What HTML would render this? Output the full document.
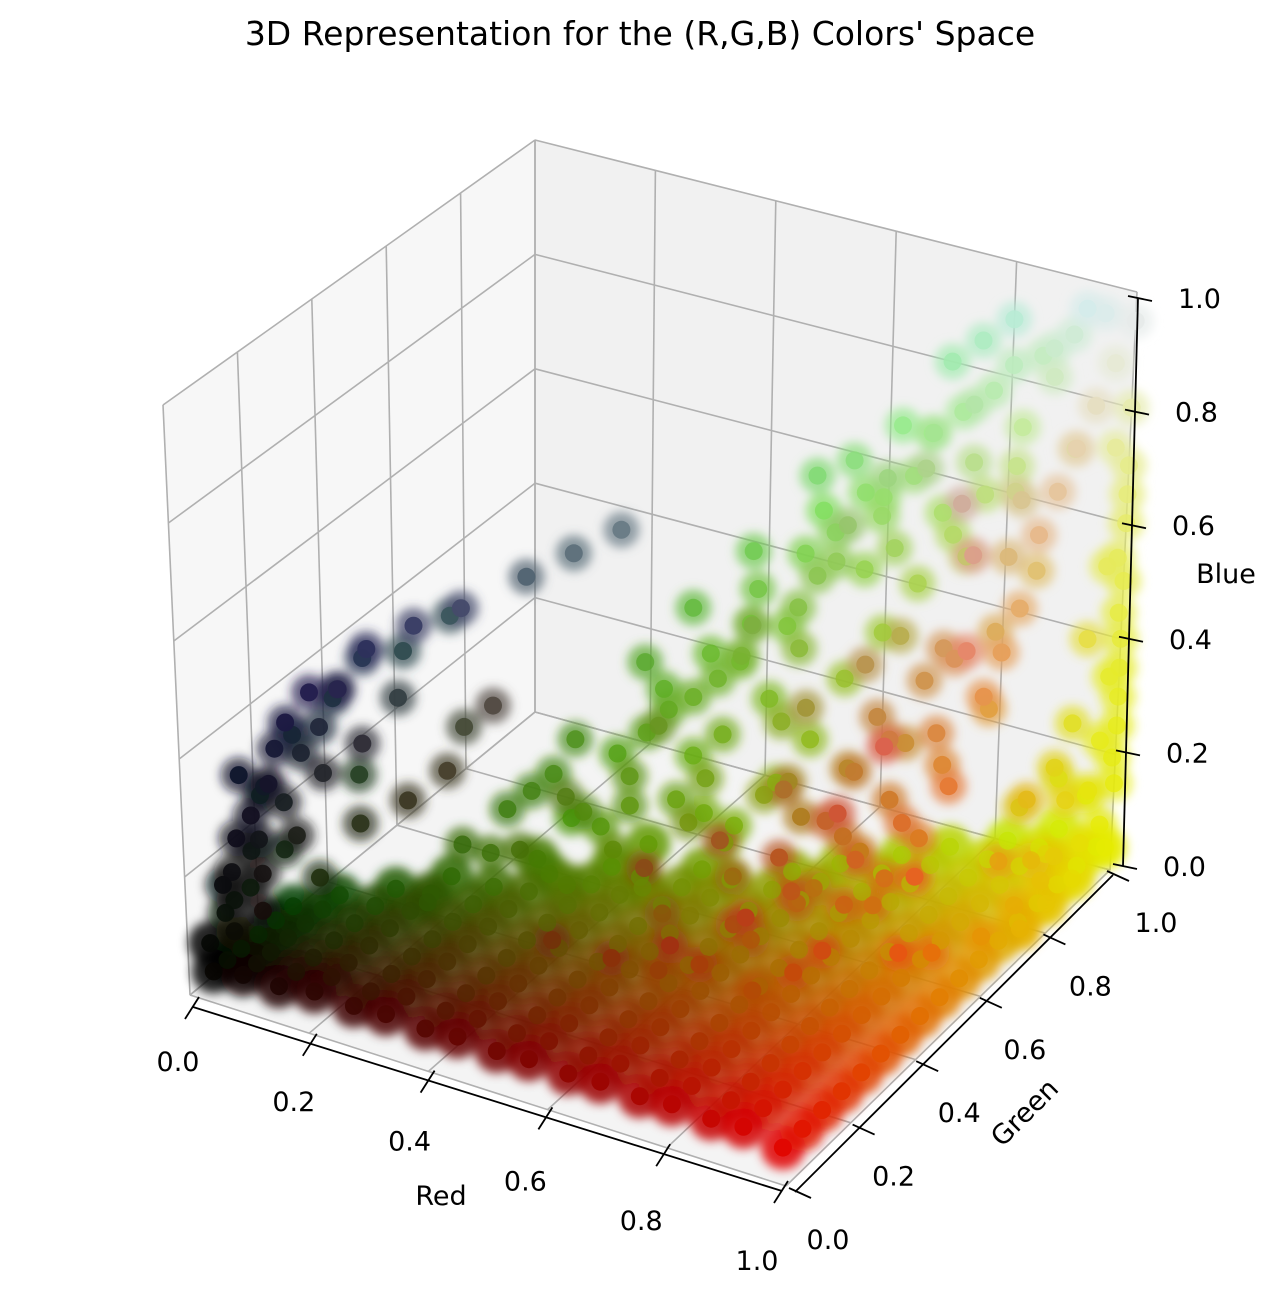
<!DOCTYPE html>
<html><head><meta charset="utf-8">
<style>
html,body{margin:0;padding:0;background:#fff;}
svg text{font-family:"DejaVu Sans","Liberation Sans",sans-serif;}
</style></head>
<body>
<svg id="chart" width="1280" height="1290" viewBox="0 0 1280 1290" xmlns="http://www.w3.org/2000/svg">
<defs><filter id="blur" x="-20%" y="-20%" width="140%" height="140%"><feGaussianBlur stdDeviation="5"/></filter></defs>
<text x="640" y="45" font-size="33" text-anchor="middle" fill="#000">3D Representation for the (R,G,B) Colors' Space</text>
<g id="panes"></g>
<g id="grid"></g>
<g id="halo" filter="url(#blur)"></g>
<g id="pts"></g>
<g id="axes"></g>
</svg>
<script>
// ---- data ----
const tickValues = [0, 0.2, 0.4, 0.6, 0.8, 1.0];
const tickLabels = ["0.0", "0.2", "0.4", "0.6", "0.8", "1.0"];
// floor rows: [red, blue, [green values...]]
const floorRows = [
 [0.03,0.04,[0.02,0.06,0.1,0.15,0.2,0.25]],
 [0.08,0.05,[0.02,0.06,0.1,0.15,0.2,0.25,0.3]],
 [0.14,0.05,[0.02,0.07,0.12,0.18,0.24,0.3,0.36]],
 [0.2,0.06,[0.02,0.07,0.12,0.18,0.24,0.3,0.36,0.42]],
 [0.26,0.05,[0.03,0.08,0.14,0.2,0.26,0.32,0.38,0.44]],
 [0.32,0.06,[0.02,0.08,0.14,0.2,0.26,0.32,0.38,0.44,0.5]],
 [0.38,0.05,[0.03,0.09,0.15,0.21,0.27,0.33,0.39,0.45,0.52]],
 [0.44,0.06,[0.02,0.08,0.14,0.2,0.26,0.32,0.38,0.44,0.5,0.56]],
 [0.5,0.05,[0.03,0.09,0.15,0.21,0.27,0.33,0.39,0.45,0.52,0.58,0.64]],
 [0.56,0.06,[0.02,0.08,0.14,0.2,0.26,0.32,0.38,0.44,0.5,0.56,0.62]],
 [0.62,0.05,[0.03,0.09,0.15,0.21,0.27,0.33,0.39,0.45,0.51,0.57,0.64,0.7]],
 [0.68,0.06,[0.02,0.08,0.14,0.2,0.26,0.32,0.38,0.44,0.5,0.56,0.62,0.68,0.74]],
 [0.74,0.05,[0.03,0.09,0.15,0.21,0.27,0.33,0.39,0.45,0.51,0.57,0.63,0.7,0.76,0.82]],
 [0.8,0.06,[0.02,0.08,0.14,0.2,0.26,0.32,0.38,0.44,0.5,0.56,0.62,0.68,0.74,0.8,0.86]],
 [0.86,0.05,[0.03,0.09,0.15,0.21,0.27,0.33,0.39,0.45,0.51,0.57,0.63,0.69,0.75,0.81,0.87,0.93]],
 [0.92,0.06,[0.02,0.08,0.14,0.2,0.26,0.32,0.38,0.44,0.5,0.56,0.62,0.68,0.74,0.8,0.86,0.92,0.98]],
 [0.98,0.04,[0.03,0.09,0.15,0.21,0.27,0.33,0.39,0.45,0.51,0.57,0.63,0.69,0.75,0.81,0.87,0.93,0.99]]
];
// elevated samples [red, green, blue]
const darkColumn = [
 [0.05,0.05,0.1],[0.05,0.05,0.2],[0.08,0.06,0.3],[0.1,0.08,0.35],[0.1,0.1,0.4],[0.12,0.1,0.45],
 [0.08,0.08,0.25],[0.15,0.12,0.5],[0.18,0.15,0.5],[0.2,0.2,0.55],[0.25,0.25,0.58],[0.3,0.3,0.6],
 [0.35,0.4,0.62],[0.4,0.45,0.65],[0.45,0.5,0.68],[0.1,0.05,0.15],[0.15,0.15,0.35],[0.2,0.18,0.4],
 [0.25,0.22,0.3],[0.3,0.25,0.35],[0.12,0.12,0.25],[0.05,0.1,0.15],[0.18,0.2,0.25],[0.22,0.25,0.45],
 [0.3,0.3,0.4],[0.06,0.12,0.3],[0.1,0.15,0.4],[0.14,0.2,0.45],[0.05,0.08,0.35],[0.08,0.15,0.2],
 [0.2,0.3,0.5],[0.25,0.35,0.55],[0.15,0.25,0.3],[0.35,0.3,0.45],[0.12,0.18,0.15],[0.03,0.06,0.12],
 [0.02,0.03,0.08],[0.04,0.04,0.18],[0.06,0.05,0.26],[0.08,0.1,0.33],[0.12,0.14,0.38],[0.14,0.16,0.42],
 [0.1,0.12,0.3],[0.06,0.09,0.22],[0.16,0.18,0.48],[0.18,0.22,0.52],[0.04,0.07,0.14],[0.09,0.07,0.2]
];
const greenRidge = [
 [0.2,0.35,0.05],[0.25,0.45,0.1],[0.3,0.5,0.08],[0.35,0.55,0.15],[0.35,0.6,0.1],[0.4,0.6,0.2],
 [0.4,0.65,0.25],[0.45,0.7,0.2],[0.45,0.7,0.3],[0.5,0.75,0.35],[0.5,0.7,0.25],[0.55,0.8,0.4],
 [0.5,0.8,0.45],[0.6,0.8,0.5],[0.6,0.85,0.55],[0.65,0.9,0.6],[0.7,0.9,0.65],[0.7,0.95,0.7],
 [0.75,0.95,0.75],[0.8,0.95,0.8],[0.85,1,0.85],[0.9,1,0.9],[0.95,1,0.95],[0.9,0.95,0.85],
 [0.8,0.9,0.7],[0.75,0.9,0.6],[0.65,0.85,0.5],[0.55,0.75,0.3],[0.45,0.65,0.15],[0.35,0.5,0.05],
 [0.6,0.75,0.4],[0.7,0.85,0.55],[0.55,0.7,0.45],[0.65,0.8,0.6],[0.75,0.85,0.7],[0.85,0.95,0.75],
 [0.3,0.6,0.1],[0.4,0.55,0.1],[0.5,0.65,0.2],[0.6,0.7,0.3],[0.45,0.75,0.35],[0.4,0.7,0.3],
 [0.55,0.85,0.5],[0.5,0.6,0.15],[0.35,0.65,0.2],[0.45,0.6,0.3],[0.6,0.9,0.65],[0.7,1,0.8],
 [0.8,1,0.9],[0.75,1,0.85],[0.65,0.95,0.7],[0.55,0.9,0.55],[0.3,0.55,0.2],[0.25,0.5,0.15],
 [0.3,0.45,0.12],[0.35,0.5,0.2],[0.4,0.6,0.15],[0.42,0.68,0.28],[0.48,0.72,0.33],[0.5,0.78,0.4],
 [0.52,0.72,0.38],[0.58,0.78,0.45],[0.62,0.82,0.52],[0.66,0.88,0.58],[0.68,0.86,0.66],[0.72,0.92,0.72],
 [0.78,0.93,0.78],[0.82,0.97,0.84],[0.88,0.98,0.88],[0.92,1,0.95],[0.62,0.9,0.6],[0.55,0.88,0.62],
 [0.48,0.82,0.5],[0.42,0.75,0.42],[0.38,0.68,0.35],[0.32,0.58,0.25],[0.28,0.52,0.18],[0.22,0.42,0.12],
 [0.38,0.58,0.05],[0.42,0.62,0.08],[0.48,0.68,0.12],[0.52,0.7,0.1],[0.58,0.72,0.18],[0.62,0.75,0.25],
 [0.66,0.78,0.35],[0.7,0.82,0.42],[0.74,0.85,0.5],[0.78,0.88,0.58],[0.82,0.9,0.65],[0.86,0.92,0.7],
 [0.45,0.55,0.05],[0.55,0.62,0.12],[0.6,0.65,0.2]
];
const pinkCloud = [
 [1,0.4,0.3],[1,0.5,0.4],[0.95,0.45,0.35],[1,0.6,0.5],[0.95,0.6,0.55],[1,0.7,0.6],[1,0.75,0.7],
 [1,0.8,0.75],[1,0.85,0.8],[1,0.9,0.85],[0.9,0.4,0.3],[0.9,0.5,0.45],[0.85,0.4,0.35],[0.8,0.35,0.3],
 [0.9,0.3,0.2],[1,0.35,0.2],[0.95,0.55,0.45],[1,0.65,0.55],[0.95,0.75,0.65],[1,0.95,0.9],[1,1,0.95],
 [0.9,0.6,0.5],[0.85,0.55,0.45],[0.8,0.6,0.5],[0.8,0.7,0.5],[0.85,0.8,0.6],[0.9,0.85,0.7],[0.7,0.6,0.4],
 [0.7,0.2,0.2],[0.8,0.25,0.25],[0.75,0.3,0.2],[0.6,0.2,0.15],[0.85,0.3,0.15],[0.7,0.35,0.3],
 [0.9,0.35,0.4],[0.6,0.3,0.25],[0.5,0.2,0.15],[0.95,0.65,0.7],[1,0.55,0.6],[0.9,0.7,0.75],
 [0.85,0.5,0.25],[0.75,0.45,0.35],[0.95,0.4,0.5],[1,0.45,0.15],[0.9,0.45,0.2],[0.8,0.45,0.2],
 [0.7,0.3,0.12],[0.75,0.35,0.15],[0.8,0.4,0.2],[0.85,0.45,0.3],[0.9,0.5,0.35],[0.95,0.5,0.3],
 [0.72,0.25,0.15],[0.78,0.3,0.1],[0.82,0.35,0.25],[0.88,0.4,0.22],[0.92,0.45,0.25],[0.96,0.55,0.4],
 [0.98,0.65,0.45],[0.92,0.62,0.55],[0.88,0.58,0.4],[0.84,0.5,0.38],[0.96,0.7,0.55],[0.98,0.78,0.62],
 [0.94,0.8,0.72],[0.98,0.88,0.78],[0.65,0.25,0.12],[0.6,0.35,0.15],[0.68,0.42,0.2],[0.75,0.5,0.28],
 [0.8,0.55,0.35],[0.7,0.55,0.3]
];
const yellowBand = [
 [1,0.7,0.1],[1,0.75,0.15],[1,0.8,0.05],[1,0.85,0.2],[1,0.9,0.1],[1,0.95,0.25],[1,1,0.3],
 [1,1,0.4],[1,1,0.5],[1,1,0.6],[1,1,0.15],[1,0.98,0.05],[0.98,0.9,0.3],[1,0.9,0.45],
 [1,0.95,0.55],[1,1,0.7],[0.95,0.8,0.2],[1,0.65,0.2],[1,0.97,0.35],[1,0.99,0.45],[1,1,0.8],
 [0.98,0.95,0.15],[0.97,0.85,0.1],[1,0.6,0.1],
 [1,0.72,0.05],[1,0.78,0.1],[1,0.82,0.12],[1,0.88,0.05],[1,0.92,0.18],[1,0.96,0.1],[1,0.99,0.2],
 [1,1,0.25],[1,1,0.35],[1,0.98,0.55],[1,1,0.65],[1,0.96,0.75],[0.98,0.85,0.25],[0.96,0.9,0.2],[0.99,0.75,0.25]
];

// ---- projection ----
const F = {p000:[190,995],p100:[786,1186],p010:[535,712],p110:[1110,870]};
const T = {p001:[163,405],p101:[762,555],p011:[535,140],p111:[1137,292]};
function bil(a,b,c,d,u,v){return [(1-u)*(1-v)*a[0]+u*(1-v)*b[0]+(1-u)*v*c[0]+u*v*d[0],(1-u)*(1-v)*a[1]+u*(1-v)*b[1]+(1-u)*v*c[1]+u*v*d[1]];}
function proj(r,g,b){
  const f=bil(F.p000,F.p100,F.p010,F.p110,r,g);
  const t=bil(T.p001,T.p101,T.p011,T.p111,r,g);
  return [f[0]+(t[0]-f[0])*b, f[1]+(t[1]-f[1])*b];
}
const NS='http://www.w3.org/2000/svg';
function mk(tag,attrs,parent){const e=document.createElementNS(NS,tag);for(const k in attrs)e.setAttribute(k,attrs[k]);parent.appendChild(e);return e;}
function poly(pts){return pts.map(p=>p[0].toFixed(1)+','+p[1].toFixed(1)).join(' ');}

// panes
const panes=document.getElementById('panes');
const floorPane=mk('polygon',{points:poly([proj(0,0,0),proj(1,0,0),proj(1,1,0),proj(0,1,0)]),fill:'#f4f4f4',stroke:'#e6e6e6'},panes);


const leftPane=mk('polygon',{points:poly([proj(0,0,0),proj(0,1,0),proj(0,1,1),proj(0,0,1)]),fill:'#f7f7f7',stroke:'#ececec'},panes);


const backPane=mk('polygon',{points:poly([proj(0,1,0),proj(1,1,0),proj(1,1,1),proj(0,1,1)]),fill:'#f1f1f1',stroke:'#e6e6e6'},panes);



// grid
const grid=document.getElementById('grid');
function gl(a,b){const l=mk('line',{x1:a[0],y1:a[1],x2:b[0],y2:b[1],stroke:'#b0b0b0','stroke-width':1.6},grid);

}
tickValues.forEach(t=>{
  gl(proj(0,t,0),proj(0,t,1)); gl(proj(0,0,t),proj(0,1,t));
  gl(proj(t,1,0),proj(t,1,1)); gl(proj(0,1,t),proj(1,1,t));
  gl(proj(t,0,0),proj(t,1,0)); gl(proj(0,t,0),proj(1,t,0));
});

// points
const samples=[];
floorRows.forEach(row=>row[2].forEach(g=>samples.push([row[0],g,row[1]])));
darkColumn.forEach(p=>samples.push(p));
greenRidge.forEach(p=>samples.push(p));
pinkCloud.forEach(p=>samples.push(p));
yellowBand.forEach(p=>samples.push(p));
const depth=p=>0.433*p[0]-0.75*p[1]+0.5*p[2];
samples.sort((a,b)=>depth(a)-depth(b));
const ptsG=document.getElementById('pts');
const haloG=document.getElementById('halo');
function colorOf(p){
  const cr=Math.round(p[0]*230), cg=Math.round(Math.min(1,p[1]*1.05)*235), cb=Math.round(Math.pow(p[2],1.7)*255);
  return `rgb(${cr},${cg},${cb})`;
}
samples.forEach(p=>{
  const xy=proj(p[0],p[1],p[2]);
  const col=colorOf(p);
  const h=mk('circle',{cx:xy[0].toFixed(1),cy:xy[1].toFixed(1),r:p[2]<0.1?22:18,fill:col,'fill-opacity':p[2]<0.1?0.85:0.7},haloG);
  
  
});
samples.forEach(p=>{
  const xy=proj(p[0],p[1],p[2]);
  const col=colorOf(p);
  const d=depth(p); const op=Math.max(0.55,Math.min(1,0.85+d*0.5));
  const c=mk('circle',{cx:xy[0].toFixed(1),cy:xy[1].toFixed(1),r:9,fill:col,'fill-opacity':op},ptsG);
  
  
});

// axes
const axes=document.getElementById('axes');
function axisLine(a,b,name){const l=mk('line',{x1:a[0],y1:a[1],x2:b[0],y2:b[1],stroke:'#000','stroke-width':1.8},axes);

}
const lerp=(a,b,t)=>[a[0]+(b[0]-a[0])*t,a[1]+(b[1]-a[1])*t];
const rA=[193,1007], rB=[782,1191];
const gA=[795,1192], gB=[1113,875];
const bA=[1123,866], bB=[1138,298];
axisLine(rA,rB,'red-axis-line');
axisLine(gA,gB,'green-axis-line');
axisLine(bA,bB,'blue-axis-line');
function txt(x,y,s,name,extra){const t=mk('text',Object.assign({x:x,y:y,'font-size':27,fill:'#000'},extra||{}),axes);t.textContent=s;

return t;}
tickValues.forEach((v,i)=>{
  let p=lerp(rA,rB,v);
  axisLine([p[0]-8,p[1]+12],[p[0]+6,p[1]-10],'red-tick');
  txt(p[0]-15-2*i,p[1]+64+3*i,tickLabels[i],'red-tick-label',{'text-anchor':'middle'});
  p=lerp(gA,gB,v);
  axisLine([p[0]-6,p[1]-4],[p[0]+16,p[1]+6],'green-tick');
  txt(p[0]+33+2*i,p[1]+57,tickLabels[i],'green-tick-label',{'text-anchor':'middle'});
  p=lerp(bA,bB,v);
  axisLine([p[0]-10,p[1]-2],[p[0]+14,p[1]+3],'blue-tick');
  txt(p[0]+40,p[1]+10,tickLabels[i],'blue-tick-label',{'text-anchor':'start'});
});
txt(441,1205,'Red','red-axis-title',{'text-anchor':'middle'});
txt(1024,1122,'Green','green-axis-title',{'text-anchor':'middle',transform:'rotate(-45 1024 1112)'});
txt(1226,583,'Blue','blue-axis-title',{'text-anchor':'middle'});
</script>
</body></html>
